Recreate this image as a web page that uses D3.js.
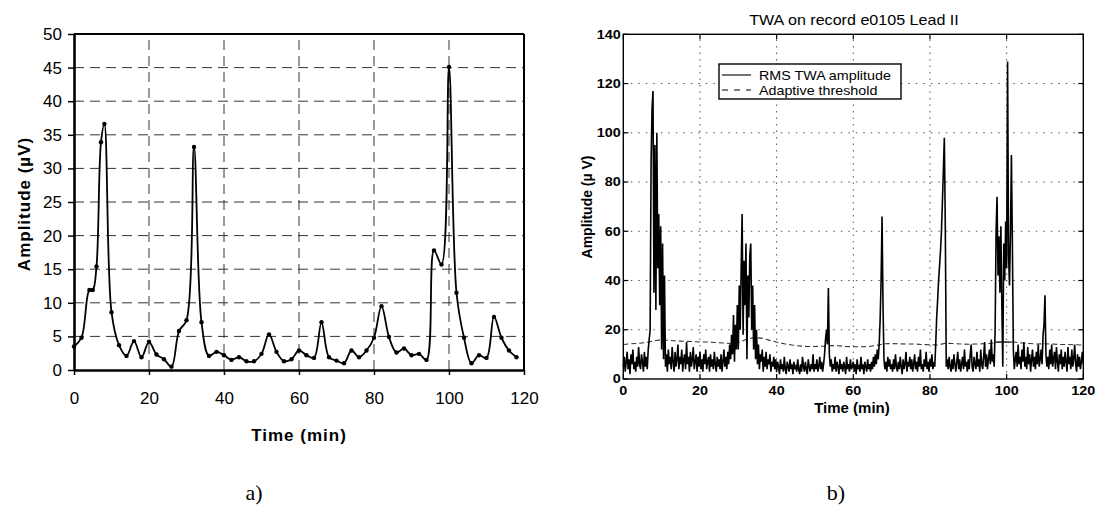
<!DOCTYPE html>
<html><head><meta charset="utf-8">
<script src="https://cdn.jsdelivr.net/npm/d3@7/dist/d3.min.js"></script>
<style>body{margin:0;background:#fff} svg{display:block}</style>
</head><body>
<svg id="c" width="1100" height="506"></svg>
<script>
// ---------- Panel a data ----------
const aTime = [0,2,4.1,5,6,7.2,8.1,10,12,14,16,18,20,22,24,26,28,30,32,34,36,38,40,42,44,46,48,50,52,54,56,58,60,62,64,66,68,70,72,74,76,78,80,82,84,86,88,90,92,94,96,98,100,102,104,106,108,110,112,114,116,118];
const aAmp  = [3.5,4.8,11.9,11.9,15.4,33.9,36.6,8.6,3.7,2.1,4.3,1.9,4.2,2.3,1.6,0.5,5.8,7.4,33.2,7.1,2.1,2.7,2.2,1.5,1.9,1.3,1.3,2.4,5.3,2.7,1.3,1.6,2.9,2.2,1.8,7.1,1.9,1.4,1.0,2.9,1.9,2.9,4.8,9.5,4.9,2.6,3.2,2.2,2.4,1.5,17.8,15.7,45.1,11.5,4.8,1.0,2.2,1.8,7.9,4.8,2.9,1.9];
const aXTicks = [0,20,40,60,80,100,120];
const aYTicks = [0,5,10,15,20,25,30,35,40,45,50];

// ---------- Panel b data ----------
const bTitle = "TWA on record e0105 Lead II";
const twaStep = 0.25; // minutes between samples
const twaRms = [
5,9,3,7,11,4,8,2,10,6,12,4,7,3,9,5,13,6,4,10,
7,3,11,5,9,4,12,16,20,88,110,117,35,95,28,100,45,67,30,62,
12,55,8,42,5,10,3,12,6,9,4,13,7,3,11,5,8,14,4,9,
6,12,3,8,10,4,15,6,9,3,11,5,8,13,4,7,10,3,9,5,
11,4,8,3,10,6,12,4,7,9,3,10,5,8,4,11,6,3,9,5,
8,4,10,3,7,12,5,9,4,11,6,14,8,18,10,26,7,22,12,30,
12,38,20,45,67,18,48,30,55,8,42,25,50,55,20,38,12,30,8,20,
6,14,4,10,7,12,3,9,5,11,4,8,6,10,3,7,5,9,4,8,
3,7,5,2,8,4,6,3,9,4,2,7,5,3,8,4,6,2,7,4,
5,3,8,4,2,6,3,9,5,3,7,4,2,8,5,3,6,4,10,3,
6,4,8,3,5,9,4,7,3,6,10,16,20,14,37,10,5,8,3,6,
4,9,3,7,5,2,8,4,6,3,7,5,2,9,4,6,3,8,4,5,
7,3,6,2,8,4,5,3,9,4,6,2,7,5,3,8,4,6,3,7,
4,9,5,10,6,12,8,14,24,40,66,30,8,4,7,3,9,5,8,4,
6,3,8,4,10,5,3,7,4,9,5,2,8,4,6,11,3,7,5,9,
4,8,3,6,10,4,7,3,9,5,12,4,6,3,8,5,11,4,7,3,
8,5,10,4,6,5,14,25,32,40,46,52,60,72,85,98,62,5,8,4,
9,5,3,8,4,10,6,3,7,11,4,8,3,6,9,4,12,5,7,3,
8,4,10,14,5,3,9,6,4,11,5,8,3,12,6,4,9,15,5,10,
4,8,12,6,16,7,10,5,20,60,74,42,58,35,62,30,5,55,40,64,
45,129,50,38,60,91,55,12,4,8,11,5,14,6,9,4,12,7,15,5,
9,4,13,6,10,3,8,12,5,9,4,11,6,14,5,8,12,6,18,22,
34,10,5,9,4,12,6,14,5,8,11,4,13,7,3,10,6,12,4,9,
5,11,7,3,13,6,9,4,12,5,8,14,6,3,10,5,9,4,7,11,
6];
const thrTime  = [0,2,4,6,8,10,12,14,16,18,20,22,24,26,28,30,32,34,36,38,40,42,44,46,48,50,52,54,56,58,60,62,64,66,68,70,72,74,76,78,80,82,84,86,88,90,92,94,96,98,100,102,104,106,108,110,112,114,116,118,120];
const thrValue = [14,14.3,14.5,14.8,15.5,16,15.7,15.4,15.3,15.2,15,15,14.8,14.6,14.4,14.8,16,16.8,16.6,15.8,15,14.3,13.8,13.4,13.2,13.2,13.3,13.6,13.5,13.2,13.1,13.1,13.2,13.6,14.3,14.4,14.3,14.2,14.2,14,13.9,13.8,14.5,14.4,14.2,14.1,14.2,14.3,14.5,15,15,15,14.6,14.4,14.2,14.3,14.2,14,14,13.9,13.8];
const thrHoldTime = [97, 101.5];
const thrHoldValue = [15, 15];
const bXTicks = [0,20,40,60,80,100,120];
const bYTicks = [0,20,40,60,80,100,120,140];
const legendLabels = ["RMS TWA amplitude", "Adaptive threshold"];

const svg = d3.select('#c');

// =============== Panel a ===============
const ax = d3.scaleLinear().domain([0,120]).range([74,524]);
const ay = d3.scaleLinear().domain([0,50]).range([370,34]);
const A = svg.append('g');

A.append('g').selectAll('line').data(aYTicks.filter(d=>d>0&&d<50)).join('line')
  .attr('x1',ax(0)).attr('x2',ax(120)).attr('y1',d=>ay(d)).attr('y2',d=>ay(d))
  .attr('stroke','#333').attr('stroke-width',1).attr('stroke-dasharray','10,6');
A.append('g').selectAll('line').data(aXTicks.filter(d=>d>0&&d<120)).join('line')
  .attr('x1',d=>ax(d)).attr('x2',d=>ax(d)).attr('y1',ay(0)).attr('y2',ay(50))
  .attr('stroke','#333').attr('stroke-width',1).attr('stroke-dasharray','10,6');

A.append('line').attr('x1',ax(0)).attr('x2',ax(120)).attr('y1',ay(50)).attr('y2',ay(50)).attr('stroke','#000').attr('stroke-width',2);
A.append('line').attr('x1',ax(120)).attr('x2',ax(120)).attr('y1',ay(50)).attr('y2',ay(0)).attr('stroke','#000').attr('stroke-width',2);

const aYAxis = A.append('g').attr('transform',`translate(${ax(0)},0)`)
  .call(d3.axisLeft(ay).tickValues(aYTicks).tickSize(6).tickSizeOuter(0).tickPadding(6));
const aXAxis = A.append('g').attr('transform',`translate(0,${ay(0)})`)
  .call(d3.axisBottom(ax).tickValues(aXTicks).tickSize(5).tickSizeOuter(0));
[aYAxis,aXAxis].forEach(g=>{
  g.select('.domain').attr('stroke','#000').attr('stroke-width',2.6);
  g.selectAll('.tick line').attr('stroke','#000').attr('stroke-width',1.5);
  g.selectAll('text').attr('font-family','Liberation Sans, Arial, sans-serif').attr('font-size',17).attr('fill','#000');
});
aXAxis.selectAll('text').attr('y',34).attr('dy',0);

const aPts = aTime.map((t,i)=>[t,aAmp[i]]);
A.append('path').datum(aPts)
  .attr('d', d3.line().x(d=>ax(d[0])).y(d=>ay(d[1])).curve(d3.curveCatmullRom.alpha(0.5)))
  .attr('fill','none').attr('stroke','#000').attr('stroke-width',1.8);
A.append('g').selectAll('circle').data(aPts).join('circle')
  .attr('cx',d=>ax(d[0])).attr('cy',d=>ay(d[1])).attr('r',2.2).attr('fill','#000');

A.append('text').attr('transform','translate(30,204) rotate(-90)').attr('text-anchor','middle')
  .attr('font-family','Liberation Sans, Arial, sans-serif').attr('font-size',17).attr('font-weight','bold')
  .attr('letter-spacing','1px').text('Amplitude (µV)');
A.append('text').attr('x',299).attr('y',441).attr('text-anchor','middle')
  .attr('font-family','Liberation Sans, Arial, sans-serif').attr('font-size',17).attr('font-weight','bold')
  .attr('letter-spacing','1px').text('Time (min)');
svg.append('text').attr('x',254).attr('y',500).attr('text-anchor','middle')
  .attr('font-family','Liberation Serif, Times New Roman, serif').attr('font-size',22).text('a)');
svg.append('text').attr('x',836).attr('y',500).attr('text-anchor','middle')
  .attr('font-family','Liberation Serif, Times New Roman, serif').attr('font-size',22).text('b)');

// =============== Panel b ===============
const bx = d3.scaleLinear().domain([0,120]).range([623.3,1083.3]);
const by = d3.scaleLinear().domain([0,140]).range([379,34.3]);
const B = svg.append('g');
const ff = 'Liberation Sans, Arial, sans-serif';

B.append('g').selectAll('line').data(bYTicks.filter(d=>d>0&&d<140)).join('line')
  .attr('x1',bx(0)).attr('x2',bx(120)).attr('y1',d=>by(d)).attr('y2',d=>by(d))
  .attr('stroke','#555').attr('stroke-width',1).attr('stroke-dasharray','1.5,6');
B.append('g').selectAll('line').data(bXTicks.filter(d=>d>0&&d<120)).join('line')
  .attr('x1',d=>bx(d)).attr('x2',d=>bx(d)).attr('y1',by(0)).attr('y2',by(140))
  .attr('stroke','#555').attr('stroke-width',1).attr('stroke-dasharray','1.5,5');

B.append('path').datum(thrTime.map((t,i)=>[t,thrValue[i]]))
  .attr('d', d3.line().x(d=>bx(d[0])).y(d=>by(d[1])))
  .attr('fill','none').attr('stroke','#333').attr('stroke-width',1.1).attr('stroke-dasharray','5,3');
B.append('path').datum(thrHoldTime.map((t,i)=>[t,thrHoldValue[i]]))
  .attr('d', d3.line().x(d=>bx(d[0])).y(d=>by(d[1])))
  .attr('fill','none').attr('stroke','#222').attr('stroke-width',1.2);

B.append('path').datum(twaRms.map((v,i)=>[i*twaStep,v]))
  .attr('d', d3.line().x(d=>bx(d[0])).y(d=>by(d[1])))
  .attr('fill','none').attr('stroke','#000').attr('stroke-width',1.6).attr('stroke-linejoin','miter');

B.append('rect').attr('x',bx(0)).attr('y',by(140)).attr('width',bx(120)-bx(0)).attr('height',by(0)-by(140))
  .attr('fill','none').attr('stroke','#000').attr('stroke-width',1.4);
const tk = B.append('g').attr('stroke','#000').attr('stroke-width',1.2);
tk.selectAll('.l').data(bYTicks).join('line').attr('x1',bx(0)).attr('x2',bx(0)+5).attr('y1',d=>by(d)).attr('y2',d=>by(d));
tk.selectAll('.r').data(bYTicks).join('line').attr('x1',bx(120)).attr('x2',bx(120)-5).attr('y1',d=>by(d)).attr('y2',d=>by(d));
tk.selectAll('.b').data(bXTicks).join('line').attr('x1',d=>bx(d)).attr('x2',d=>bx(d)).attr('y1',by(0)).attr('y2',by(0)-5);
tk.selectAll('.t').data(bXTicks).join('line').attr('x1',d=>bx(d)).attr('x2',d=>bx(d)).attr('y1',by(140)).attr('y2',by(140)+5);

B.append('g').selectAll('text').data(bYTicks).join('text')
  .attr('transform',d=>`translate(${bx(0)-2.5},${by(d)+4.3}) scale(1.2,1)`)
  .attr('text-anchor','end').attr('font-family',ff).attr('font-size',12).attr('font-weight','bold').text(d=>d);
B.append('g').selectAll('text').data(bXTicks).join('text')
  .attr('transform',d=>`translate(${bx(d)},395) scale(1.2,1)`)
  .attr('text-anchor','middle').attr('font-family',ff).attr('font-size',12).attr('font-weight','bold').text(d=>d);

B.append('text').attr('transform','translate(854,25) scale(1.15,1)').attr('text-anchor','middle')
  .attr('font-family',ff).attr('font-size',14).text(bTitle);
B.append('text').attr('transform','translate(592,207) rotate(-90)').attr('text-anchor','middle')
  .attr('font-family',ff).attr('font-size',14).attr('font-weight','bold').text('Amplitude (µ V)');
B.append('text').attr('x',852).attr('y',413).attr('text-anchor','middle')
  .attr('font-family',ff).attr('font-size',15).attr('font-weight','bold').text('Time (min)');

const L = B.append('g');
L.append('rect').attr('x',719).attr('y',64).attr('width',182).attr('height',35)
  .attr('fill','#fff').attr('stroke','#000').attr('stroke-width',1.4);
L.append('line').attr('x1',722).attr('x2',751).attr('y1',75).attr('y2',75).attr('stroke','#000').attr('stroke-width',1.1);
L.append('line').attr('x1',722).attr('x2',751).attr('y1',90).attr('y2',90).attr('stroke','#000').attr('stroke-width',1.1).attr('stroke-dasharray','6,6');
L.selectAll('text').data(legendLabels).join('text')
  .attr('transform',(d,i)=>`translate(759,${80+i*14.5}) scale(1.1,1)`)
  .attr('font-family',ff).attr('font-size',13).text(d=>d);
</script>
</body></html>
